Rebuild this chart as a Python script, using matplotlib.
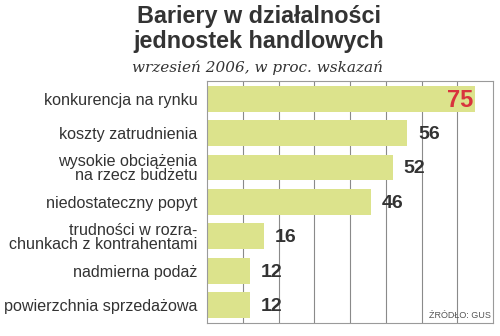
import matplotlib.pyplot as plt
import numpy as np

# data
categories = ['konkurencja na rynku', 'koszty zatrudnienia',
              'wysokie obciążenia\nna rzecz budżetu', 'niedostateczny popyt',
              'trudności w rozra-\nchunkach z kontrahentami', 'nadmierna podaż',
              'powierzchnia sprzedażowa']
values = [75, 56, 52, 46, 16, 12, 12]

bar_color = '#dce38c'
grid_color = '#8a8a8a'
text_color = '#333333'

plt.rcParams["font.family"] = "Liberation Sans"

fig = plt.figure(figsize=(5, 3.36), dpi=100)
fig.patch.set_facecolor('white')
ax = fig.add_axes([0.414, 0.039, 0.572, 0.720])

y = np.arange(len(values))
ax.barh(y, values, height=0.75, color=bar_color, zorder=2)
ax.set_ylim(len(values) - 0.48, -0.52)
ax.set_xlim(0, 80)
ax.set_xticks(np.arange(10, 80, 10))
ax.xaxis.grid(True, color=grid_color, linewidth=0.8, zorder=0)
ax.tick_params(axis='x', length=0, labelbottom=False)
ax.tick_params(axis='y', length=0, pad=7)
ax.set_yticks(y)
ax.set_yticklabels(categories, fontsize=11.6, color=text_color, linespacing=0.9)
for s in ax.spines.values():
    s.set_color('#9a9a9a')
    s.set_linewidth(0.8)

for i, v in enumerate(values):
    if i == 0:
        ax.text(v - 0.6, i + 0.04, str(v), ha='right', va='center', fontsize=17,
                fontweight='bold', color='#d8333d', zorder=3)
    else:
        ax.text(v + 3.0, i + 0.04, str(v), ha='left', va='center', fontsize=14,
                fontweight='bold', color=text_color, zorder=3)

ax.text(79.5, 6.3, 'ŹRÓDŁO: GUS', ha='right', va='center', fontsize=6.5,
        color='#555555')

fig.text(0.518, 0.952, 'Bariery w działalności', ha='center', va='center',
         fontsize=16.8, fontweight='bold', color=text_color)
fig.text(0.518, 0.877, 'jednostek handlowych', ha='center', va='center',
         fontsize=16.8, fontweight='bold', color=text_color)
fig.text(0.516, 0.797, 'wrzesień 2006, w proc. wskazań', ha='center', va='center',
         fontsize=11, style='italic', family='DejaVu Serif', color=text_color)

plt.savefig('out.png', dpi=100)
